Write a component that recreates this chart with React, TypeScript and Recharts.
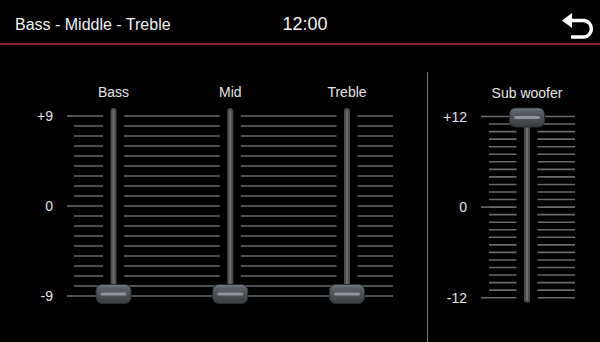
import { ComposedChart, XAxis, YAxis, CartesianGrid, ReferenceLine, Scatter } from 'recharts';

// Equalizer bands and their current levels (dB)
const EQ_BANDS = ['Bass', 'Mid', 'Treble'];
const EQ_LEVELS = [-9, -9, -9];
const EQ_TICKS = [-9, -8, -7, -6, -5, -4, -3, -2, -1, 0, 1, 2, 3, 4, 5, 6, 7, 8, 9];
const EQ_LABELED = [9, 0, -9];

// Subwoofer level
const SUB_BANDS = ['Sub woofer'];
const SUB_LEVELS = [12];
const SUB_TICKS = [-12, -11, -10, -9, -8, -7, -6, -5, -4, -3, -2, -1, 0, 1, 2, 3, 4, 5, 6, 7, 8, 9, 10, 11, 12];
const SUB_LABELED = [12, 0, -12];

const TITLE = 'Bass - Middle - Treble';
const CLOCK = '12:00';

const FONT = '"Liberation Sans", Arial, Helvetica, sans-serif';
const GRID = '#6a6a6a';
const LABEL = '#e4e4e4';

const fmt = (v: number) => (v > 0 ? `+${v}` : `${v}`);

const eqData = EQ_BANDS.map((name, i) => ({ name, level: EQ_LEVELS[i] }));
const subData = SUB_BANDS.map((name, i) => ({ name, level: SUB_LEVELS[i] }));

// y-axis tick: label + short extension of the grid line, only on labeled levels
function makeLevelTick(labeled: number[], ext: number, gap: number) {
  return function LevelTick(props: any) {
    const { x, y, payload } = props;
    if (!labeled.includes(payload.value)) return <g />;
    return (
      <g>
        <line x1={x + gap} x2={x + gap + ext} y1={y} y2={y} stroke={GRID} strokeWidth={1.6} />
        <text x={x} y={y} dy={5} textAnchor="end" fill={LABEL} fontSize={14} fontFamily={FONT}>
          {fmt(payload.value)}
        </text>
      </g>
    );
  };
}

const eqTick = makeLevelTick(EQ_LABELED, 7, 14);
const subTick = makeLevelTick(SUB_LABELED, 8, 14);

function BandLabel(props: any) {
  const { x, y, payload } = props;
  return (
    <text x={x} y={y} textAnchor="middle" fill={LABEL} fontSize={14} fontFamily={FONT}>
      {payload.value}
    </text>
  );
}

// slider track: black gap over the grid lines, then the gray rail
function Track(props: any) {
  const { x1, y1, y2 } = props;
  const top = Math.min(y1, y2);
  const bottom = Math.max(y1, y2);
  return (
    <g>
      <line x1={x1} x2={x1} y1={top - 2} y2={bottom + 2} stroke="#000" strokeWidth={21} />
      <line x1={x1} x2={x1} y1={top - 5} y2={bottom + 2} stroke="#4a4a4a" strokeWidth={6} strokeLinecap="round" />
      <line x1={x1} x2={x1} y1={top - 5} y2={bottom + 2} stroke="#6c6c6c" strokeWidth={2} strokeLinecap="round" />
    </g>
  );
}

// knob drawn on the level; dy nudges it slightly like the original skin
function makeKnob(dy: number) {
  return function Knob(props: any) {
    const { cx, payload } = props;
    const cy = props.cy + dy;
    const id = `knob-${String(payload.name).replace(/\s+/g, '-')}`;
    const w = 35;
    const h = 19;
    return (
      <g>
        <defs>
          <linearGradient id={id} x1="0" y1="0" x2="0" y2="1">
            <stop offset="0%" stopColor="#7a7f84" />
            <stop offset="18%" stopColor="#5a5f64" />
            <stop offset="100%" stopColor="#393d41" />
          </linearGradient>
        </defs>
        <rect x={cx - w / 2} y={cy - h / 2} width={w} height={h} rx={6} fill={`url(#${id})`} stroke="#2a2d30" strokeWidth={1} />
        <rect x={cx - 13} y={cy - 1.5} width={26} height={3} rx={1.5} fill="#8e949a" />
      </g>
    );
  };
}

const eqKnob = makeKnob(-2);
const subKnob = makeKnob(1);

function BackIcon() {
  return (
    <svg width={600} height={44} style={{ position: 'absolute', left: 0, top: 0 }}>
      <polygon points="562,20.5 572,13 572,28" fill="#fff" />
      <path d="M570 20.5 H584 A8.3 8.3 0 0 1 584 37 H571" fill="none" stroke="#fff" strokeWidth={3.4} />
    </svg>
  );
}

export default function App() {
  return (
    <div style={{ position: 'absolute', left: 0, top: 0, width: 600, height: 342, background: '#000', overflow: 'hidden', fontFamily: FONT }}>
      {/* header */}
      <div style={{ position: 'absolute', left: 15, top: 15, fontSize: 16, lineHeight: '20px', color: '#f2f2f2' }}>{TITLE}</div>
      <div style={{ position: 'absolute', left: 255, width: 100, top: 13, textAlign: 'center', fontSize: 18, lineHeight: '22px', color: '#f2f2f2' }}>{CLOCK}</div>
      <BackIcon />
      <div style={{ position: 'absolute', left: 0, top: 43, width: 600, height: 2, background: '#8c1f1f' }} />

      {/* divider */}
      <div style={{ position: 'absolute', left: 426.5, top: 72, width: 1.5, height: 270, background: '#7a7a7a' }} />

      {/* bass / mid / treble */}
      <div style={{ position: 'absolute', left: 0, top: 0 }}>
        <ComposedChart width={420} height={342} data={eqData} margin={{ top: 86, right: 27, bottom: 46, left: 14 }}>
          <CartesianGrid horizontal vertical={false} stroke={GRID} strokeWidth={1.6} />
          <XAxis
            dataKey="name"
            type="category"
            scale="point"
            orientation="top"
            height={30}
            padding={{ left: 39.5, right: 46 }}
            axisLine={false}
            tickLine={false}
            tickSize={0}
            tickMargin={19}
            interval={0}
            tick={BandLabel}
          />
          <YAxis
            type="number"
            domain={[-9, 9]}
            ticks={EQ_TICKS}
            interval={0}
            width={60}
            axisLine={false}
            tickLine={false}
            tickSize={7}
            tickMargin={14}
            tick={eqTick}
          />
          {EQ_BANDS.map((b) => (
            <ReferenceLine key={b} x={b} ifOverflow="visible" shape={Track} />
          ))}
          <Scatter dataKey="level" isAnimationActive={false} shape={eqKnob} />
        </ComposedChart>
      </div>

      {/* sub woofer */}
      <div style={{ position: 'absolute', left: 430, top: 0 }}>
        <ComposedChart width={170} height={342} data={subData} margin={{ top: 86.5, right: 25, bottom: 44.3, left: 9 }}>
          <CartesianGrid horizontal vertical={false} stroke={GRID} strokeWidth={1.6} />
          <XAxis
            dataKey="name"
            type="category"
            scale="point"
            orientation="top"
            height={30}
            padding={{ left: 0, right: 10 }}
            axisLine={false}
            tickLine={false}
            tickSize={0}
            tickMargin={19}
            interval={0}
            tick={BandLabel}
          />
          <YAxis
            type="number"
            domain={[-12, 12]}
            ticks={SUB_TICKS}
            interval={0}
            width={50}
            axisLine={false}
            tickLine={false}
            tickSize={8}
            tickMargin={14}
            tick={subTick}
          />
          {SUB_BANDS.map((b) => (
            <ReferenceLine key={b} x={b} ifOverflow="visible" shape={Track} />
          ))}
          <Scatter dataKey="level" isAnimationActive={false} shape={subKnob} />
        </ComposedChart>
      </div>
    </div>
  );
}
